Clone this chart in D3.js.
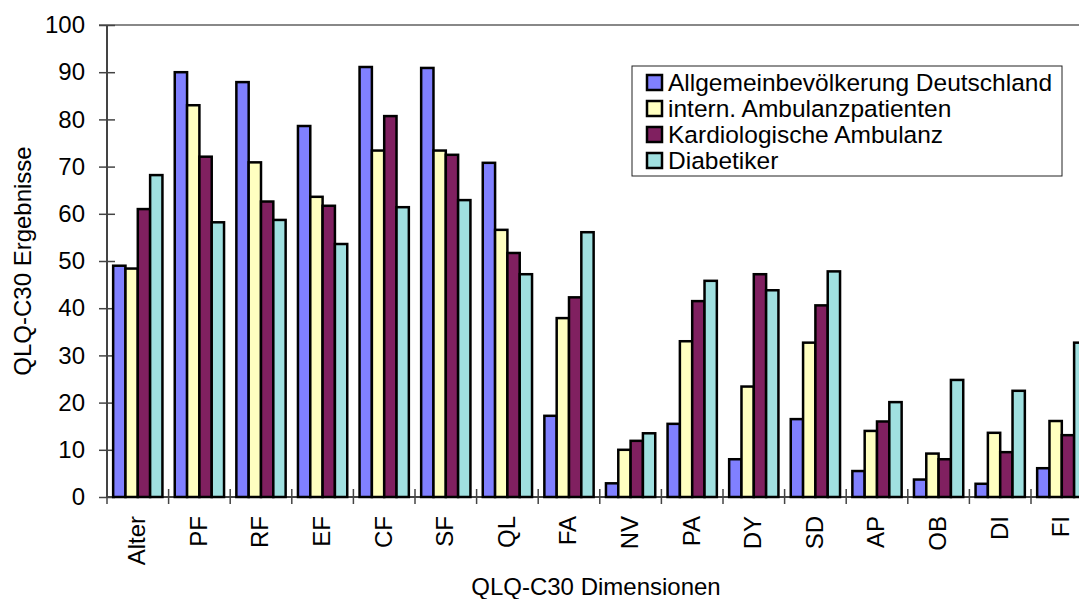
<!DOCTYPE html>
<html>
<head>
<meta charset="utf-8">
<script src="https://cdn.jsdelivr.net/npm/d3@7"></script>
<style>
  body { margin: 0; background: #fff; }
  svg { display: block; font-family: "Liberation Sans", Arial, sans-serif; }
</style>
</head>
<body>
<div id="chart"></div>
<script>
// Kategorien (QLQ-C30 Dimensionen)
const categories = ['Alter', 'PF', 'RF', 'EF', 'CF', 'SF', 'QL', 'FA', 'NV', 'PA', 'DY', 'SD', 'AP', 'OB', 'DI', 'FI']

// Serien
const seriesNames = [
  'Allgemeinbevölkerung Deutschland',
  'intern. Ambulanzpatienten',
  'Kardiologische Ambulanz',
  'Diabetiker'
]
const allgemein = [49.0, 90.0, 87.9, 78.6, 91.1, 90.9, 70.8, 17.2, 2.9, 15.5, 8.0, 16.5, 5.5, 3.7, 2.8, 6.1]
const intern = [48.4, 83.0, 70.9, 63.6, 73.4, 73.4, 56.6, 37.9, 10.0, 33.0, 23.4, 32.7, 14.0, 9.2, 13.6, 16.1]
const kardio = [61.0, 72.1, 62.6, 61.7, 80.7, 72.5, 51.7, 42.3, 11.9, 41.5, 47.2, 40.6, 16.0, 8.0, 9.5, 13.1]
const diabetiker = [68.2, 58.2, 58.7, 53.6, 61.4, 62.9, 47.2, 56.1, 13.5, 45.8, 43.8, 47.8, 20.1, 24.8, 22.5, 32.7]

const yTicks = [0, 10, 20, 30, 40, 50, 60, 70, 80, 90, 100]

const seriesValues = [allgemein, intern, kardio, diabetiker]
const colors = ['#8080ff', '#ffffc0', '#802060', '#a0e0e0']

// Maße
const config = {
  width: 1079,
  height: 599,
  marginLeft: 107,
  plotTop: 25,
  plotBottom: 497,
  step: 61.6
}
const { width, height, marginLeft, plotTop, plotBottom, step } = config

const svg = d3.select('#chart')
  .append('svg')
  .attr('width', width)
  .attr('height', height)

const x = d3.scaleBand()
  .domain(categories)
  .range([marginLeft, marginLeft + step * categories.length])
  .padding(0)

const xs = d3.scaleBand()
  .domain(seriesNames)
  .range([0, x.bandwidth()])
  .paddingInner(0)
  .paddingOuter(0.5)

const y = d3.scaleLinear()
  .domain([0, 100])
  .range([plotBottom, plotTop])

// obere Linie (100)
svg.append('line')
  .attr('x1', marginLeft - 8)
  .attr('x2', width)
  .attr('y1', y(100))
  .attr('y2', y(100))
  .attr('stroke', '#888')
  .attr('stroke-width', 2)

// Y-Achse
const yAxis = svg.append('g')
  .attr('transform', `translate(${marginLeft},0)`)
  .call(d3.axisLeft(y).tickValues(yTicks).tickSize(8).tickPadding(14))
yAxis.select('.domain').remove()
yAxis.selectAll('line').attr('x1', -8).attr('x2', 8).attr('stroke', '#444').attr('stroke-width', 1.5)
yAxis.selectAll('text')
  .attr('font-size', '24px')
  .attr('fill', '#000')
  .attr('font-family', '"Liberation Sans", Arial, sans-serif')

svg.append('line')
  .attr('x1', marginLeft).attr('x2', marginLeft)
  .attr('y1', y(100)).attr('y2', y(0))
  .attr('stroke', '#444')
  .attr('stroke-width', 2)

// X-Achse
svg.append('line')
  .attr('x1', marginLeft).attr('x2', width)
  .attr('y1', y(0)).attr('y2', y(0))
  .attr('stroke', '#444')
  .attr('stroke-width', 2)

const boundaries = categories.map(c => x(c)).concat([x.range()[1]])
svg.selectAll('.xtick')
  .data(boundaries)
  .enter()
  .append('line')
  .attr('class', 'xtick')
  .attr('x1', d => d).attr('x2', d => d)
  .attr('y1', y(0) - 8).attr('y2', y(0) + 7)
  .attr('stroke', '#444')
  .attr('stroke-width', 1.5)

// Balken
categories.forEach((c, i) => {
  svg.append('g')
    .attr('transform', `translate(${x(c)},0)`)
    .selectAll('rect')
    .data(seriesNames.map((s, j) => ({ s, j, v: seriesValues[j][i] })))
    .enter()
    .append('rect')
    .attr('x', d => xs(d.s))
    .attr('y', d => y(d.v))
    .attr('width', xs.bandwidth())
    .attr('height', d => y(0) - y(d.v))
    .attr('fill', d => colors[d.j])
    .attr('stroke', '#000')
    .attr('stroke-width', 2.5)
})

// Kategorie-Beschriftungen
svg.selectAll('.xlabel')
  .data(categories)
  .enter()
  .append('text')
  .attr('class', 'xlabel')
  .attr('transform', d => `translate(${x(d) + x.bandwidth() / 2 - 1},${y(0) + 19}) rotate(-90)`)
  .attr('text-anchor', 'end')
  .attr('dy', '0.35em')
  .attr('font-size', '24px')
  .text(d => d)

// Achsentitel
svg.append('text')
  .attr('transform', `translate(31,${(plotTop + plotBottom) / 2}) rotate(-90)`)
  .attr('text-anchor', 'middle')
  .attr('font-size', '24px')
  .text('QLQ-C30 Ergebnisse')

svg.append('text')
  .attr('x', 596)
  .attr('y', 595)
  .attr('text-anchor', 'middle')
  .attr('font-size', '24px')
  .text('QLQ-C30 Dimensionen')

// Legende
const legend = svg.append('g').attr('transform', 'translate(632,66)')
legend.append('rect')
  .attr('width', 430)
  .attr('height', 110)
  .attr('fill', '#fff')
  .attr('stroke', '#222')
  .attr('stroke-width', 1)

const items = legend.selectAll('.item')
  .data(seriesNames)
  .enter()
  .append('g')
  .attr('class', 'item')
  .attr('transform', (d, i) => `translate(0,${16 + i * 26})`)

items.append('rect')
  .attr('x', 15)
  .attr('y', -7)
  .attr('width', 15)
  .attr('height', 15)
  .attr('fill', (d, i) => colors[i])
  .attr('stroke', '#000')
  .attr('stroke-width', 2.5)

items.append('text')
  .attr('x', 36)
  .attr('dy', '0.35em')
  .attr('font-size', '24.5px')
  .text(d => d)
</script>
</body>
</html>
